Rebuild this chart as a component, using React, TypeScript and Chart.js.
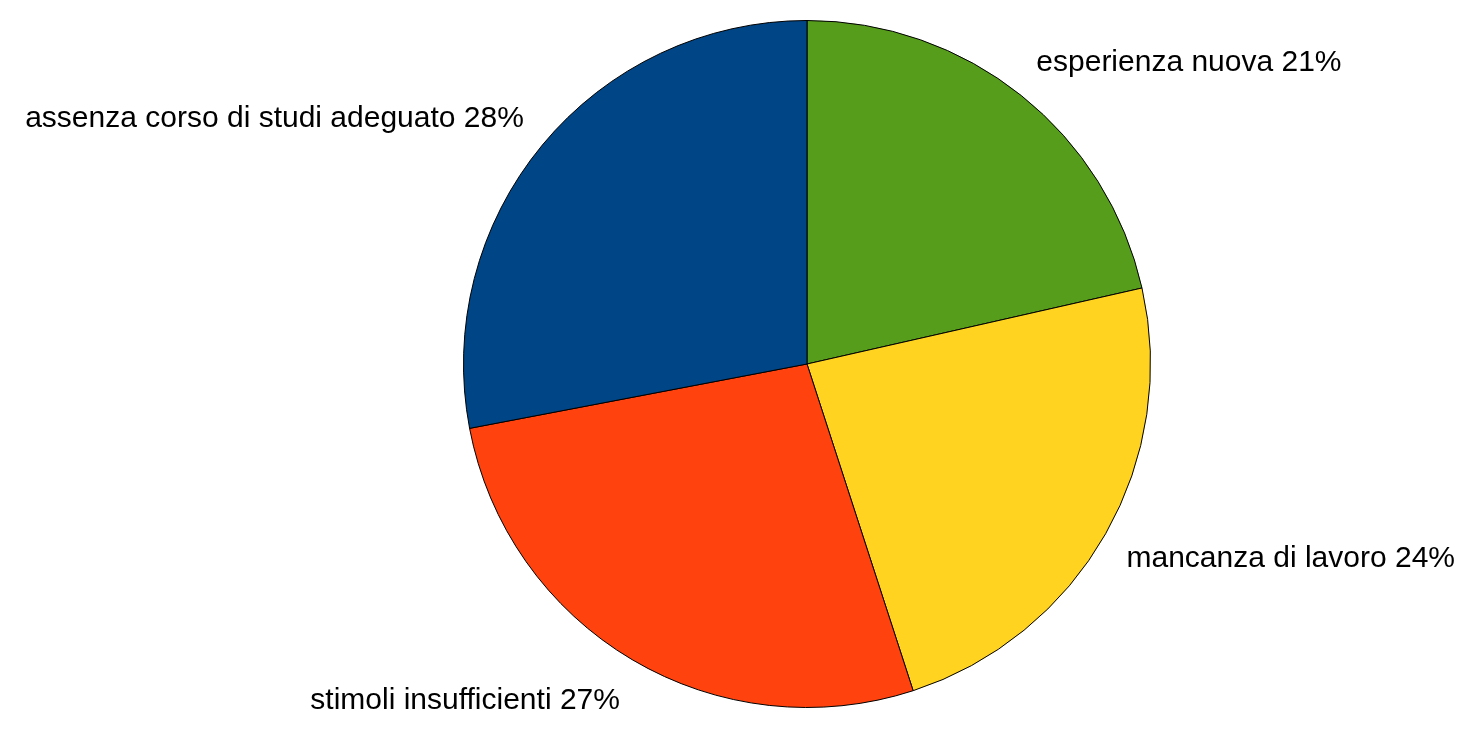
import React, { useEffect, useRef } from "react";
import { Chart, registerables } from "chart.js";

Chart.register(...registerables);

const categories = [
  "esperienza nuova",
  "mancanza di lavoro",
  "stimoli insufficienti",
  "assenza corso di studi adeguato",
];
const values = [21.45, 23.55, 27.0, 28.0];
const colors = ["#579D1C", "#FFD320", "#FF420E", "#004586"];

const labelPlugin = {
  id: "outerLabels",
  afterDatasetsDraw(chart: any) {
    const ctx = chart.ctx;
    const meta = chart.getDatasetMeta(0);
    const total = values.reduce((a, b) => a + b, 0);
    ctx.save();
    ctx.font = '30px "Liberation Sans", Arial, sans-serif';
    ctx.fillStyle = "#000";
    ctx.textBaseline = "alphabetic";
    meta.data.forEach((arc: any, i: number) => {
      const p = arc.getProps(["x", "y", "startAngle", "endAngle", "outerRadius"], true);
      const mid = (p.startAngle + p.endAngle) / 2;
      const rx = p.outerRadius + 24;
      const ry = p.outerRadius + 45;
      const x = p.x + rx * Math.cos(mid);
      const y = p.y + ry * Math.sin(mid) + 11;
      ctx.textAlign = Math.cos(mid) >= 0 ? "left" : "right";
      const pct = Math.round((values[i] / total) * 100);
      ctx.fillText(`${categories[i]} ${pct}%`, x, y);
    });
    ctx.restore();
  },
};

export default function App() {
  const ref = useRef<HTMLCanvasElement>(null);
  useEffect(() => {
    document.body.style.margin = "0";
    const chart = new Chart(ref.current!, {
      type: "pie",
      data: {
        labels: categories,
        datasets: [
          {
            data: values,
            backgroundColor: colors,
            borderColor: "#000",
            borderWidth: 1,
          },
        ],
      },
      options: {
        responsive: false,
        animation: false,
        devicePixelRatio: 1,
        layout: { padding: { left: 463, right: 319, top: 20, bottom: 39 } },
        plugins: {
          legend: { display: false },
          tooltip: { enabled: false },
        },
      },
      plugins: [labelPlugin],
    });
    return () => chart.destroy();
  }, []);
  return (
    <div style={{ width: 1470, height: 747, background: "#fff" }}>
      <canvas ref={ref} width={1470} height={747} />
    </div>
  );
}
